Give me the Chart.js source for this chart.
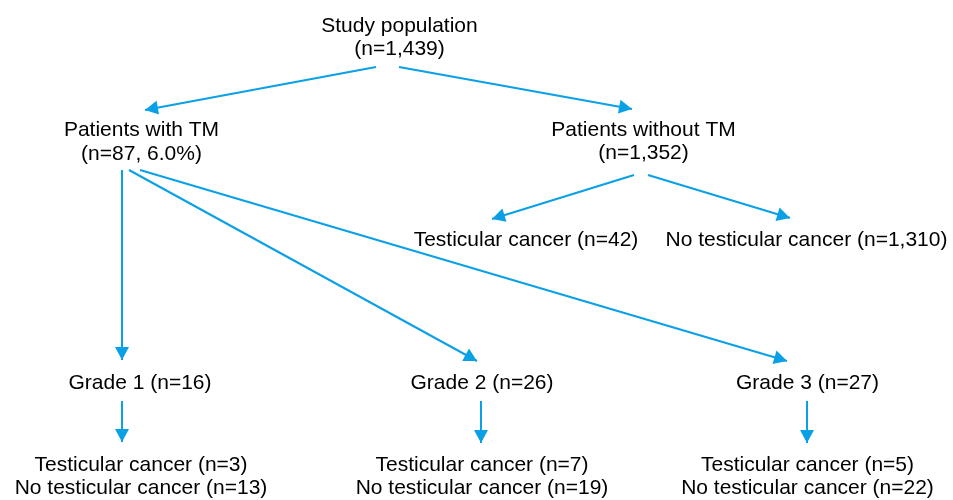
<!DOCTYPE html>
<html>
<head>
<meta charset="utf-8">
<script src="https://cdn.jsdelivr.net/npm/chart.js@4/dist/chart.umd.min.js"></script>
<style>
html,body{margin:0;padding:0;background:#ffffff;}
#wrap{width:953px;height:500px;position:relative;}
</style>
</head>
<body>
<div id="wrap"><canvas id="c" width="953" height="500"></canvas></div>
<script>
// ---------- DATA ----------
const studyLabel = ['Study population'];
const studyTotal = [1439];
const tmGroups = ['Patients with TM', 'Patients without TM'];
const tmCounts = [87, 1352];
const tmPercent = [6.0];
const outcomeLabels = ['Testicular cancer', 'No testicular cancer'];
const noTmOutcomeCounts = [42, 1310];
const gradeLabels = ['Grade 1', 'Grade 2', 'Grade 3'];
const gradeCounts = [16, 26, 27];
const gradeCancerCounts = [3, 7, 5];
const gradeNoCancerCounts = [13, 19, 22];

// ---------- LAYOUT (positions in scale units, 1 unit = 1 px) ----------
const nodeX = {
  study: 399.5, tm: 141.5, noTm: 643.5,
  noTmCancer: 526, noTmNoCancer: 806.5,
  grade: [140, 482, 807.5], outcome: [141, 482, 807.5]
};
const nodeBaselines = {
  study: [32, 55], tm: [136, 160], noTm: [136, 159],
  noTmOutcome: [246], grade: [389], outcome: [471, 494]
};
const edgeLayout = [
  [[376, 67], [145, 110]],
  [[399, 67], [632, 109]],
  [[634, 175], [492, 219]],
  [[648, 175], [790, 218]],
  [[122, 170], [122, 360]],
  [[129, 170], [477, 361]],
  [[140, 170], [787, 361]],
  [[122, 401], [122, 442]],
  [[481, 401], [481, 443]],
  [[807, 401], [807, 443]]
];

// ---------- STYLE ----------
const arrowColor = '#0aa0e6';
const textColor = '#000000';
const fontSpec = '21px "Liberation Sans", Arial, Helvetica, sans-serif';

const fmt = n => n.toLocaleString('en-US');

// Build text items from data
const textItems = [];
textItems.push({x: nodeX.study, y: nodeBaselines.study[0], t: studyLabel[0]});
textItems.push({x: nodeX.study, y: nodeBaselines.study[1], t: '(n=' + fmt(studyTotal[0]) + ')'});
textItems.push({x: nodeX.tm, y: nodeBaselines.tm[0], t: tmGroups[0]});
textItems.push({x: nodeX.tm, y: nodeBaselines.tm[1], t: '(n=' + fmt(tmCounts[0]) + ', ' + tmPercent[0].toFixed(1) + '%)'});
textItems.push({x: nodeX.noTm, y: nodeBaselines.noTm[0], t: tmGroups[1]});
textItems.push({x: nodeX.noTm, y: nodeBaselines.noTm[1], t: '(n=' + fmt(tmCounts[1]) + ')'});
textItems.push({x: nodeX.noTmCancer, y: nodeBaselines.noTmOutcome[0], t: outcomeLabels[0] + ' (n=' + fmt(noTmOutcomeCounts[0]) + ')'});
textItems.push({x: nodeX.noTmNoCancer, y: nodeBaselines.noTmOutcome[0], t: outcomeLabels[1] + ' (n=' + fmt(noTmOutcomeCounts[1]) + ')'});
gradeLabels.forEach((g, i) => {
  textItems.push({x: nodeX.grade[i], y: nodeBaselines.grade[0], t: g + ' (n=' + fmt(gradeCounts[i]) + ')'});
  textItems.push({x: nodeX.outcome[i], y: nodeBaselines.outcome[0], t: outcomeLabels[0] + ' (n=' + fmt(gradeCancerCounts[i]) + ')'});
  textItems.push({x: nodeX.outcome[i], y: nodeBaselines.outcome[1], t: outcomeLabels[1] + ' (n=' + fmt(gradeNoCancerCounts[i]) + ')'});
});

const datasets = edgeLayout.map(e => ({
  data: [{x: e[0][0], y: e[0][1]}, {x: e[1][0], y: e[1][1]}],
  showLine: true,
  borderColor: arrowColor,
  backgroundColor: arrowColor,
  borderWidth: 2,
  pointRadius: 0,
  pointHoverRadius: 0,
  clip: false
}));

const arrowHeads = {
  id: 'arrowHeads',
  afterDatasetsDraw(chart) {
    const ctx = chart.ctx;
    ctx.save();
    ctx.fillStyle = arrowColor;
    chart.data.datasets.forEach((ds, i) => {
      const pts = chart.getDatasetMeta(i).data;
      const a = pts[0], b = pts[1];
      const ang = Math.atan2(b.y - a.y, b.x - a.x);
      const len = 13, hw = 7;
      ctx.beginPath();
      ctx.moveTo(b.x, b.y);
      ctx.lineTo(b.x - len * Math.cos(ang) + hw * Math.sin(ang), b.y - len * Math.sin(ang) - hw * Math.cos(ang));
      ctx.lineTo(b.x - len * Math.cos(ang) - hw * Math.sin(ang), b.y - len * Math.sin(ang) + hw * Math.cos(ang));
      ctx.closePath();
      ctx.fill();
    });
    ctx.restore();
  }
};

const nodeText = {
  id: 'nodeText',
  afterDraw(chart) {
    const ctx = chart.ctx;
    const xs = chart.scales.x, ys = chart.scales.y;
    ctx.save();
    ctx.font = fontSpec;
    ctx.fillStyle = textColor;
    ctx.textAlign = 'center';
    ctx.textBaseline = 'alphabetic';
    textItems.forEach(it => {
      ctx.fillText(it.t, xs.getPixelForValue(it.x), ys.getPixelForValue(it.y));
    });
    ctx.restore();
  }
};

new Chart(document.getElementById('c'), {
  type: 'scatter',
  data: {datasets},
  options: {
    responsive: false,
    devicePixelRatio: 1,
    animation: false,
    layout: {padding: 0},
    plugins: {legend: {display: false}, tooltip: {enabled: false}},
    events: [],
    scales: {
      x: {type: 'linear', min: 0, max: 953, display: false},
      y: {type: 'linear', min: 0, max: 500, reverse: true, display: false}
    }
  },
  plugins: [arrowHeads, nodeText]
});
</script>
</body>
</html>
